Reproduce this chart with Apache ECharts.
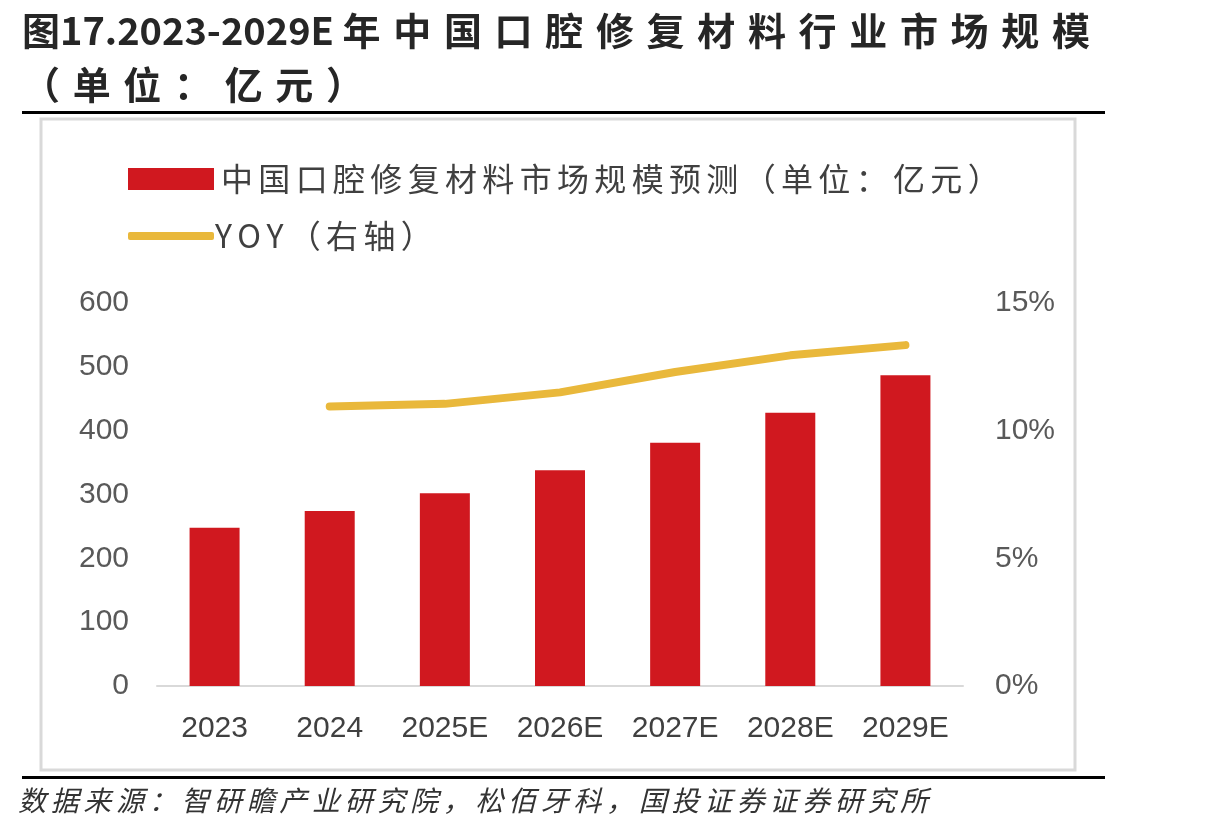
<!DOCTYPE html>
<html>
<head>
    <meta charset="UTF-8">
    <title>口腔修复材料市场规模</title>
    <script src="https://cdn.jsdelivr.net/npm/echarts@6/dist/echarts.min.js"></script>
    <style>
        html, body { margin: 0; padding: 0; background: #fff; }
    </style>
</head>
<body>
<div id="main" style="width: 1218px; height: 835px"></div>
<script>
    // 数据
    var years = ['2023', '2024', '2025E', '2026E', '2027E', '2028E', '2029E'];
    var marketSize = [248, 274, 302, 338, 381, 428, 487];   // 亿元
    var yoy = [null, 10.95, 11.05, 11.5, 12.3, 12.95, 13.35];  // %
    var leftTicks = [0, 600, 100];
    var rightTicks = [0, 15, 5];

    var barName = '中国口腔修复材料市场规模预测（单位：亿元）';
    var lineName = 'YOY（右轴）';
    var cjk = '"Noto Sans CJK SC", "Noto Sans", sans-serif';
    var num = '"Liberation Sans", Arial, sans-serif';

    // 汉字之间加一点间距
    function spaced(s, gap) {
        return s.split('').join(gap || '\u2006');
    }

    var myChart = echarts.init(document.getElementById('main'));
    var option = {
        backgroundColor: '#fff',
        animation: false,
        graphic: [
            {
                type: 'text', left: 22, top: 4,
                style: {
                    text: '图17.2023-2029E ' + spaced('年中国口腔修复材料行业市场规模', '\u2004') + '\n' + spaced('（单位：亿元）', '\u2004'),
                    font: 'bold 38px ' + cjk,
                    lineHeight: 54,
                    fill: '#262626'
                }
            },
            { type: 'rect', shape: { x: 22, y: 111, width: 1083, height: 3 }, style: { fill: '#000' } },
            { type: 'rect', shape: { x: 41, y: 119, width: 1034, height: 651 }, style: { fill: 'none', stroke: '#d9d9d9', lineWidth: 3 } },
            { type: 'rect', shape: { x: 22, y: 776, width: 1083, height: 3 }, style: { fill: '#000' } },
            {
                type: 'text', left: 18, top: 786,
                style: {
                    text: spaced('数据来源：智研瞻产业研究院，松佰牙科，国投证券证券研究所'),
                    font: 'italic 28px ' + cjk,
                    fill: '#333'
                }
            }
        ],
        legend: [
            {
                data: [barName],
                left: 123, top: 158,
                itemWidth: 86, itemHeight: 22,
                icon: 'rect',
                formatter: function (n) { return spaced(n); },
                textStyle: { fontSize: 32, color: '#404040', fontFamily: cjk, padding: [0, 0, 0, 2] }
            },
            {
                data: [lineName],
                left: 123, top: 215,
                itemWidth: 86, itemHeight: 8,
                icon: 'roundRect',
                itemGap: 4,
                formatter: function (n) { return spaced(n); },
                textStyle: { fontSize: 32, color: '#404040', fontFamily: cjk, padding: [0, 0, 0, -4] }
            }
        ],
        grid: { left: 157, right: 255, top: 303, bottom: 149, containLabel: false },
        xAxis: {
            type: 'category',
            data: years,
            axisLine: { lineStyle: { color: '#d9d9d9', width: 2 } },
            axisTick: { show: false },
            axisLabel: { fontSize: 30, color: '#404040', fontFamily: num, margin: 28 }
        },
        yAxis: [
            {
                type: 'value',
                min: leftTicks[0], max: leftTicks[1], interval: leftTicks[2],
                splitLine: { show: false },
                axisLine: { show: false },
                axisLabel: { fontSize: 30, color: '#595959', fontFamily: num, margin: 28 }
            },
            {
                type: 'value',
                min: rightTicks[0], max: rightTicks[1], interval: rightTicks[2],
                splitLine: { show: false },
                axisLine: { show: false },
                axisLabel: { fontSize: 30, color: '#595959', fontFamily: num, margin: 32, formatter: '{value}%' }
            }
        ],
        series: [
            {
                name: barName,
                type: 'bar',
                data: marketSize,
                barWidth: 50,
                itemStyle: { color: '#d0181f' }
            },
            {
                name: lineName,
                type: 'line',
                yAxisIndex: 1,
                data: yoy,
                symbol: 'none',
                lineStyle: { color: '#e9b83b', width: 8, cap: 'round', join: 'round' },
                itemStyle: { color: '#e9b83b' }
            }
        ]
    };
    myChart.setOption(option);
</script>
</body>
</html>
